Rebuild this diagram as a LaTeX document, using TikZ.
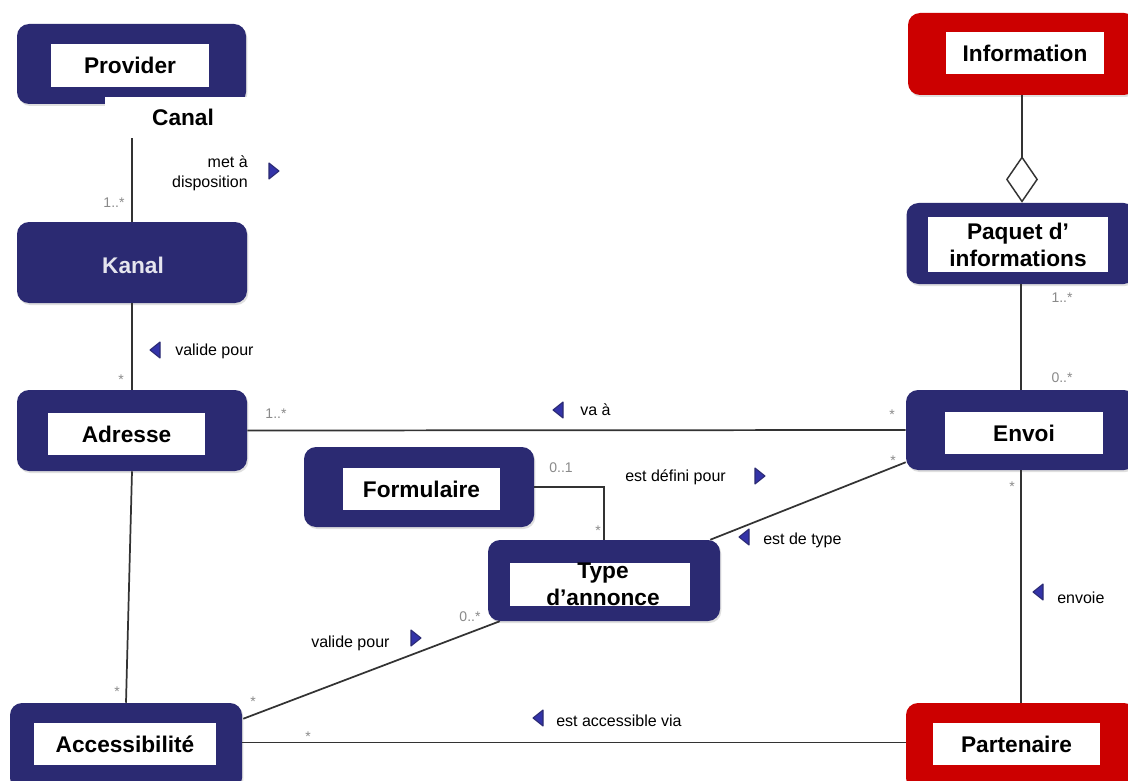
\documentclass[tikz,border=0pt]{standalone}
\usepackage{fontspec}
\setmainfont{Liberation Sans}
\usetikzlibrary{arrows.meta,calc,shadows}
\definecolor{navy}{HTML}{2B2A72}
\definecolor{triblue}{HTML}{3333A8}
\definecolor{umlred}{HTML}{CC0000}
\definecolor{multc}{HTML}{8A8A8A}
\definecolor{linec}{HTML}{333333}
\newcommand{\umltril}[2]{\filldraw[fill=triblue, draw=navy, line width=0.8pt, line join=round] (#1,#2) -- ++(10,-8) -- ++(0,16) -- cycle;}
\newcommand{\umltrir}[2]{\filldraw[fill=triblue, draw=navy, line width=0.8pt, line join=round] (#1,#2) -- ++(-10,-8) -- ++(0,16) -- cycle;}
\begin{document}
\begin{tikzpicture}[x=0.75pt,y=-0.75pt,
  sz/.style 2 args={minimum width=#1*0.75pt, minimum height=#2*0.75pt},
  cls/.style={fill=navy, rounded corners=9pt, inner sep=0pt,
    drop shadow={opacity=0.25, shadow xshift=1pt, shadow yshift=-1.5pt}},
  redcls/.style={cls, fill=umlred},
  lab/.style={fill=white, inner sep=0pt, font=\fontsize{17}{20}\selectfont\bfseries},
  ttl/.style={inner sep=0pt, font=\fontsize{17}{20}\selectfont\bfseries, align=center},
  assoc/.style={inner sep=0pt, font=\fontsize{12}{15}\selectfont},
  mult/.style={inner sep=0pt, text=multc, font=\fontsize{10.5}{12}\selectfont},
  conn/.style={draw=linec, line width=1.3pt}]
\fill[white] (0,0) rectangle (1128,781);
\useasboundingbox (0,0) rectangle (1128,781);

% classes
\node[cls, sz={229}{80}] (provider) at (131.5,64) {};
\node[lab, sz={158}{43}] (providerL) at (130,65.5) {Provider};
\node[fill=white, inner sep=0pt, sz={143}{41}] (canal) at (176.5,117.5) {};
\node[ttl] (canalT) at (183,117) {Canal};

\node[cls, sz={230}{81}] (kanal) at (132,262.5) {};
\node[ttl, text=white!88!navy] (kanalT) at (133,265) {Kanal};

\node[cls, sz={230}{81}] (adresse) at (132,430.5) {};
\node[lab, sz={157}{42}] (adresseL) at (126.5,434) {Adresse};

\node[cls, sz={230}{80}] (formulaire) at (419,487) {};
\node[lab, sz={157}{42}] (formulaireL) at (421.5,489) {Formulaire};

\node[cls, sz={232}{81}] (type) at (604,580.5) {};
\node[fill=white, inner sep=0pt, sz={180}{43}] (typeL) at (600,584) {};
\node[ttl, font=\fontsize{17}{20.25}\selectfont\bfseries] (typeT) at (603,584.5) {Type\\d’annonce};

\node[cls, sz={230}{80}] (envoi) at (1021,430) {};
\node[lab, sz={158}{42}] (envoiL) at (1024,433) {Envoi};

\node[redcls, sz={228}{82}] (info) at (1022,54) {};
\node[lab, sz={158}{42}] (infoL) at (1025,53) {Information};

\node[cls, sz={229}{81}] (paquet) at (1021,243.5) {};
\node[lab, sz={180}{55}, align=center, font=\fontsize{17}{20.25}\selectfont\bfseries] (paquetL) at (1018,244.5) {Paquet d’\\informations};

\node[redcls, sz={230}{87}] (partenaire) at (1021,746.5) {};
\node[lab, sz={167}{42}] (partenaireL) at (1016.5,744) {Partenaire};

\node[cls, sz={232}{87}] (access) at (126,746.5) {};
\node[lab, sz={182}{42}] (accessL) at (125,744) {Accessibilité};

% connectors
\draw[conn] (canal.south -| kanal.north) -- (kanal.north);
\draw[conn] (kanal.south) -- (adresse.north);
\draw[conn] (adresse.south) -- (access.north);
\draw[conn] (adresse.east) -- (envoi.west);
\draw[conn] (formulaire.east) -| (type.north);
\draw[conn] ($(type.north east)+(-10,0)$) -- ($(envoi.south west)+(0,-8)$);
\draw[conn] ($(type.south west)+(12,0)$) -- ($(access.north east)+(1,16)$);
\draw[conn] (paquet.south) -- (envoi.north);
\draw[conn] (envoi.south) -- (partenaire.north);
\draw[conn] ([yshift=3pt]access.east) -- ([yshift=3pt]partenaire.west);
\draw[conn, -{Diamond[open, length=35pt, width=24pt, line width=1.1pt]}] (info.south) -- (info.south |- paquet.north);

% multiplicities
\node[mult] (m1) at (114,203) {1..*};
\node[mult] (m2) at (121,380) {*};
\node[mult] (m3) at (276,414) {1..*};
\node[mult] (m4) at (892,415) {*};
\node[mult] (m5) at (561,468) {0..1};
\node[mult] (m6) at (598,531) {*};
\node[mult] (m7) at (893,461) {*};
\node[mult] (m8) at (1062,298) {1..*};
\node[mult] (m9) at (1062,378) {0..*};
\node[mult] (m10) at (1012,487) {*};
\node[mult] (m11) at (470,617) {0..*};
\node[mult] (m12) at (253,702) {*};
\node[mult] (m13) at (117,692) {*};
\node[mult] (m14) at (308,737) {*};

% association names
\node[assoc, anchor=east, align=right] (a1) at (248,173) {met à\\disposition};
\umltrir{279}{171}
\umltril{150}{350}
\node[assoc, anchor=west] (a2) at (175,351) {valide pour};
\umltril{553}{410}
\node[assoc, anchor=west] (a3) at (580,410) {va à};
\node[assoc, anchor=west] (a4) at (625,477) {est défini pour};
\umltrir{765}{476}
\umltril{739}{537}
\node[assoc, anchor=west] (a5) at (763,540) {est de type};
\umltril{1033}{592}
\node[assoc, anchor=west] (a6) at (1057,598) {envoie};
\node[assoc, anchor=west] (a7) at (311,643) {valide pour};
\umltrir{421}{638}
\umltril{533}{718}
\node[assoc, anchor=west] (a8) at (556,721) {est accessible via};
\end{tikzpicture}
\end{document}
